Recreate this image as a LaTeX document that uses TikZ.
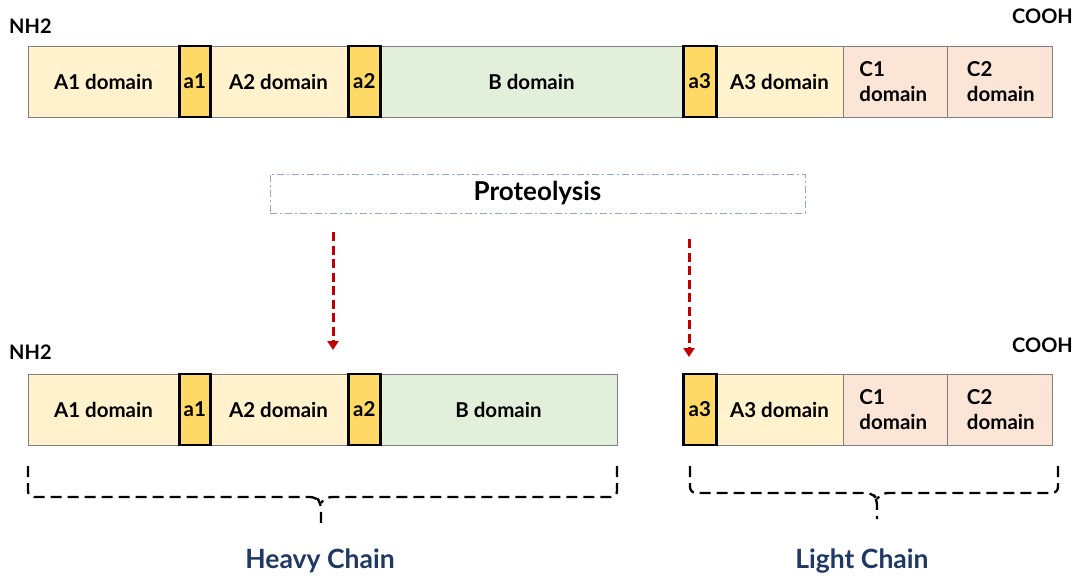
\documentclass[tikz,border=0pt]{standalone}
\usepackage{fontspec}
\setmainfont{Lato}
\usetikzlibrary{arrows.meta}

\definecolor{domA}{HTML}{FFF2CC}
\definecolor{domB}{HTML}{E2EFDA}
\definecolor{domC}{HTML}{FBE5D6}
\definecolor{linker}{HTML}{FFD966}
\definecolor{edge}{HTML}{7F7F7F}
\definecolor{proto}{HTML}{8FA6D2}
\definecolor{cut}{HTML}{C00000}
\definecolor{navy}{HTML}{1F3864}

\tikzset{
  dom/.style={draw=edge, line width=0.9pt, inner sep=0pt, minimum height=71pt,
    anchor=west, align=center, font=\bfseries\fontsize{20.5}{25}\selectfont},
  domA/.style={dom, fill=domA},
  domB/.style={dom, fill=domB},
  domC/.style={dom, fill=domC, align=left, text width=72pt},
  linkbox/.style={dom, draw=black, line width=2.6pt, fill=linker},
  endlabel/.style={font=\bfseries\fontsize{20}{24}\selectfont, inner sep=0pt},
  cutarrow/.style={draw=cut, line width=3pt, dash pattern=on 9pt off 4.5pt,
    -{Triangle[width=11pt,length=9pt]}},
  brace/.style={draw=black, line width=2.3pt, dash pattern=on 11pt off 6pt,
    rounded corners=6pt},
  chain/.style={text=navy, font=\bfseries\fontsize{26.5}{30}\selectfont},
}

\begin{document}
\begin{tikzpicture}[x=1pt, y=-1pt]
\useasboundingbox (0,0) rectangle (1076,578);

% full-length precursor
\node[domA, minimum width=150pt] (tA1) at (28,81.5) {A1 domain};
\node[domA, minimum width=138pt] (tA2) at (209,81.5) {A2 domain};
\node[domB, minimum width=304pt] (tB)  at (379,81.5) {B domain};
\node[domA, minimum width=128pt] (tA3) at (715,81.5) {A3 domain};
\node[domC, minimum width=104pt] (tC1) at (843,81.5) {C1\\domain};
\node[domC, minimum width=105pt, text width=66pt] (tC2) at (947,81.5) {C2\\domain};
\node[linkbox, minimum width=31pt] (ta1) at (178,81.5) {a1};
\node[linkbox, minimum width=32pt] (ta2) at (347,81.5) {a2};
\node[linkbox, minimum width=33pt] (ta3) at (682,81.5) {a3};

\node[endlabel, anchor=west] (tN) at (9,26) {NH2};
\node[endlabel, anchor=east] (tCt) at (1073,16) {COOH};

% cleavage step
\node[draw=proto, line width=1pt, dash pattern=on 7pt off 3pt on 2pt off 3pt,
      minimum width=535pt, minimum height=39pt, inner sep=0pt,
      font=\bfseries\fontsize{26}{30}\selectfont] (prot) at (537.5,193.5) {Proteolysis};

\coordinate (hs) at (333,232);
\coordinate (he) at (333,350);
\coordinate (ls) at (689,239);
\coordinate (le) at (689,357);
\draw[cutarrow] (hs) -- (he);
\draw[cutarrow] (ls) -- (le);

% heavy chain
\node[domA, minimum width=150pt] (hA1) at (28,409.5) {A1 domain};
\node[domA, minimum width=138pt] (hA2) at (209,409.5) {A2 domain};
\node[domB, minimum width=238pt] (hB)  at (379,409.5) {B domain};
\node[linkbox, minimum width=31pt] (ha1) at (178,409.5) {a1};
\node[linkbox, minimum width=32pt] (ha2) at (347,409.5) {a2};

% light chain
\node[domA, minimum width=128pt] (lA3) at (715,409.5) {A3 domain};
\node[domC, minimum width=104pt] (lC1) at (843,409.5) {C1\\domain};
\node[domC, minimum width=105pt, text width=66pt] (lC2) at (947,409.5) {C2\\domain};
\node[linkbox, minimum width=33pt] (la3) at (682,409.5) {a3};

\node[endlabel, anchor=west] (bN) at (9,352) {NH2};
\node[endlabel, anchor=east] (bCt) at (1073,345) {COOH};

% braces
\coordinate (hL) at (28,466);
\coordinate (hR) at (617,466);
\coordinate (hT) at (321,526);
\draw[brace] (hL) -- (28,497) -- (316,497) -- (321,503) -- (hT);
\draw[brace] (hR) -- (617,497) -- (326,497) -- (321,503);

\coordinate (lL) at (690,466);
\coordinate (lR) at (1058,466);
\coordinate (lT) at (877,519);
\draw[brace] (lL) -- (690,493) -- (872,493) -- (877,499) -- (lT);
\draw[brace] (lR) -- (1058,493) -- (882,493) -- (877,499);

\node[chain] (heavy) at (320,561) {Heavy Chain};
\node[chain] (light) at (862,561) {Light Chain};
\end{tikzpicture}
\end{document}
